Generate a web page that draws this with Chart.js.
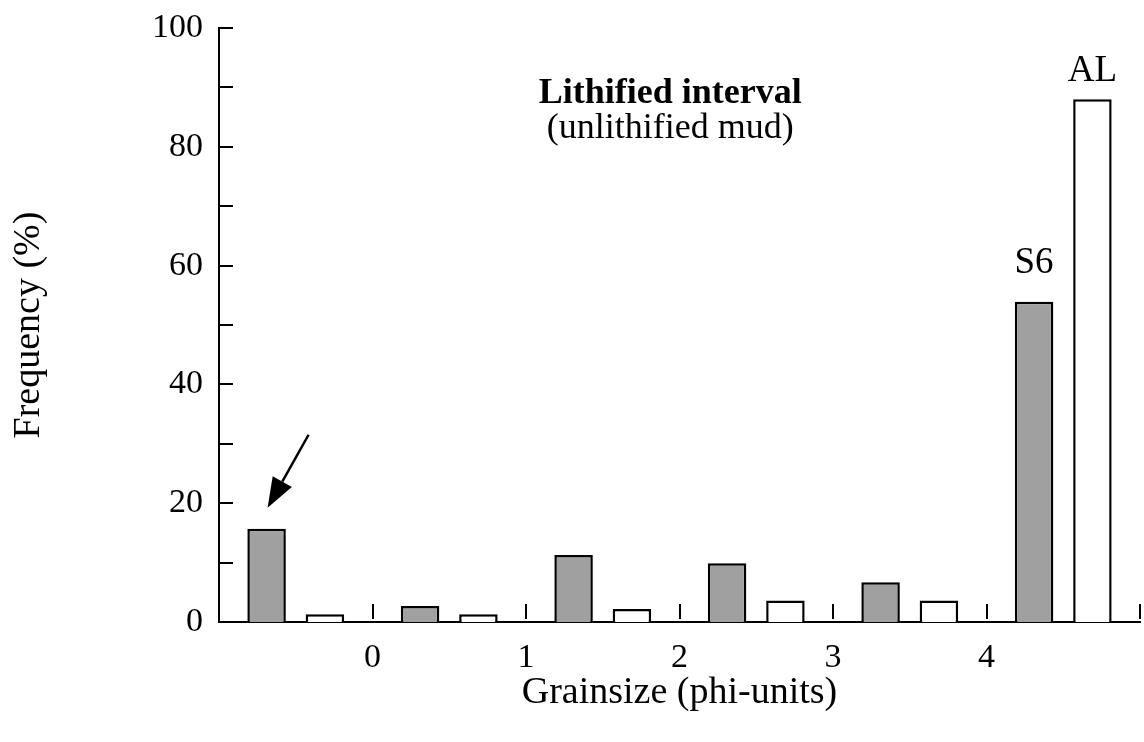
<!DOCTYPE html>
<html>
<head>
<meta charset="utf-8">
<script src="https://cdn.jsdelivr.net/npm/chart.js"></script>
<style>
  html, body { margin: 0; padding: 0; background: #fff; }
  canvas { display: block; }
</style>
</head>
<body>
<canvas id="myChart" width="1144" height="742"></canvas>
<script>
// phi classes, each bar pair sits inside one class
const bins = ['-1', '0', '1', '2', '3', '4'];
const lithified = [15.7, 2.7, 11.3, 9.9, 6.7, 53.9];   // grey bars (S6)
const mud = [1.3, 1.3, 2.2, 3.6, 3.6, 88];             // white bars (AL)
const phiLabels = [0, 1, 2, 3, 4];
const serif = "'Liberation Serif', 'Times New Roman', serif";

const extras = {
  id: 'extras',
  afterDraw(chart) {
    const ctx = chart.ctx;
    const area = chart.chartArea;
    const xs = chart.scales.x2;
    const ys = chart.scales.y;
    ctx.save();
    ctx.strokeStyle = '#000';
    ctx.fillStyle = '#000';
    ctx.lineWidth = 2;

    // inward ticks
    for (let v = 10; v <= 100; v += 10) {
      const py = Math.round(ys.getPixelForValue(v)) ;
      ctx.beginPath();
      ctx.moveTo(area.left, py);
      ctx.lineTo(area.left + 14, py);
      ctx.stroke();
    }
    for (let v = 0; v <= 5; v++) {
      const px = Math.round(xs.getPixelForValue(v));
      ctx.beginPath();
      ctx.moveTo(px, area.bottom - 3);
      ctx.lineTo(px, area.bottom - 18);
      ctx.stroke();
    }

    // title inside the plot
    ctx.textAlign = 'center';
    ctx.textBaseline = 'alphabetic';
    const tx = xs.getPixelForValue(1.94);
    ctx.font = 'bold 36px ' + serif;
    ctx.fillText('Lithified interval', tx, ys.getPixelForValue(87.3));
    ctx.font = '36px ' + serif;
    ctx.fillText('(unlithified mud)', tx, ys.getPixelForValue(81.5));

    // bar labels
    const grey = chart.getDatasetMeta(0).data;
    const white = chart.getDatasetMeta(1).data;
    const g = grey[grey.length - 1];
    const w = white[white.length - 1];
    ctx.font = '37px ' + serif;
    ctx.fillText('S6', g.x, g.y - 29);
    ctx.fillText('AL', w.x, w.y - 18);

    // arrow to first grey bar
    const b = grey[0];
    const tip = { x: b.x + 1, y: b.y - 21 };
    const tail = { x: b.x + 42, y: b.y - 94 };
    const ang = Math.atan2(tail.y - tip.y, tail.x - tip.x);
    const hl = 30, hw = 11;
    const bx = tip.x + hl * Math.cos(ang), by = tip.y + hl * Math.sin(ang);
    ctx.lineWidth = 2.5;
    ctx.beginPath();
    ctx.moveTo(tail.x, tail.y);
    ctx.lineTo(bx, by);
    ctx.stroke();
    ctx.beginPath();
    ctx.moveTo(tip.x, tip.y);
    ctx.lineTo(bx + hw * Math.sin(ang), by - hw * Math.cos(ang));
    ctx.lineTo(bx - hw * Math.sin(ang), by + hw * Math.cos(ang));
    ctx.closePath();
    ctx.fill();
    ctx.restore();
  }
};

const ctx = document.getElementById('myChart').getContext('2d');
const myChart = new Chart(ctx, {
  type: 'bar',
  data: {
    labels: bins,
    datasets: [{
      label: 'S6',
      data: lithified,
      backgroundColor: '#a0a0a0',
      borderColor: '#000',
      borderWidth: 2.5,
      categoryPercentage: 0.76,
      barPercentage: 0.66
    }, {
      label: 'AL',
      data: mud,
      backgroundColor: '#fff',
      borderColor: '#000',
      borderWidth: 2.5,
      categoryPercentage: 0.76,
      barPercentage: 0.66
    }]
  },
  options: {
    responsive: false,
    devicePixelRatio: 1,
    animation: false,
    layout: { padding: { top: 28, right: 4, bottom: 0, left: 0 } },
    plugins: { legend: { display: false }, tooltip: { enabled: false } },
    scales: {
      x: { display: false, offset: true },
      x2: {
        type: 'linear',
        position: 'bottom',
        offset: false,
        min: -1,
        max: 5,
        grid: { display: false, drawTicks: false, offset: false },
        border: { display: true, color: '#000', width: 2 },
        ticks: {
          stepSize: 1,
          autoSkip: false,
          maxRotation: 0,
          padding: 16,
          color: '#000',
          font: { family: serif, size: 34 },
          callback: v => phiLabels.includes(v) ? String(v) : ''
        },
        title: {
          display: true,
          text: 'Grainsize (phi-units)',
          color: '#000',
          font: { family: serif, size: 38 },
          padding: { top: 0, bottom: 26 }
        },
        afterFit: s => { s.height = 120; s.paddingLeft = 0; s.paddingRight = 0; }
      },
      y: {
        min: 0,
        max: 100,
        grid: { display: false, drawTicks: false },
        border: { display: true, color: '#000', width: 2 },
        ticks: {
          stepSize: 10,
          padding: 16,
          color: '#000',
          font: { family: serif, size: 34 },
          callback: v => v % 20 === 0 ? String(v) : ''
        },
        title: {
          display: true,
          text: 'Frequency (%)',
          color: '#000',
          font: { family: serif, size: 38 },
          padding: { top: 6, bottom: 0 }
        },
        afterFit: s => { s.width = 219; s.paddingTop = 0; s.paddingBottom = 0; }
      }
    }
  },
  plugins: [extras]
});
</script>
</body>
</html>
